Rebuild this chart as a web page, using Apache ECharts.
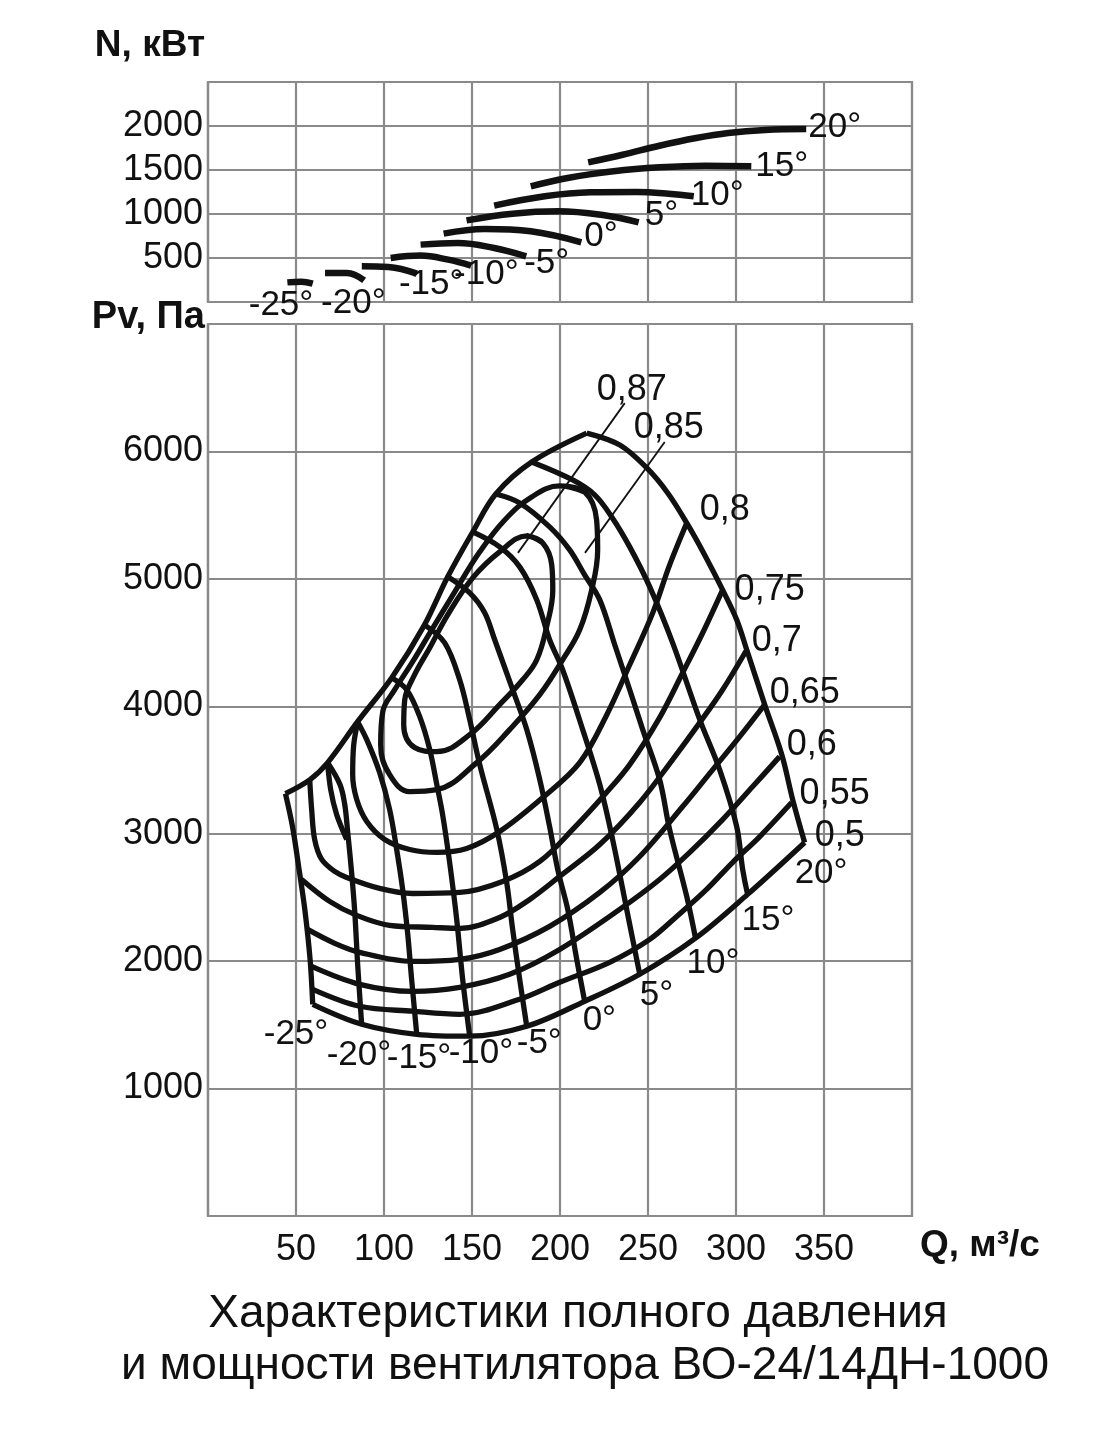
<!DOCTYPE html>
<html><head><meta charset="utf-8">
<script src="https://cdn.jsdelivr.net/npm/echarts@6/dist/echarts.min.js"></script>
<style>html,body{margin:0;padding:0;background:#fff}#c{width:1097px;height:1442px}</style>
</head><body><div id="c"></div>
<script>
// ---------- Power N(Q), kW, per blade angle ----------
const powerM25 = [[45.1,223],[53,231],[59.5,208]];
const powerM20 = [[66.5,330],[79,330],[88.7,246]];
const powerM15 = [[87.4,405],[102.5,398],[118.7,322]];
const powerM10 = [[103.8,500],[120.8,527],[136.5,481],[149.5,413]];
const powerM5  = [[120.8,652],[141.7,670],[162.6,614],[180.8,519]];
const power0   = [[133.9,777],[157.3,830],[183.4,803],[212.1,678]];
const power5   = [[146.9,928],[173,1004],[199.1,1030],[225.2,985],[244.7,905]];
const power10  = [[162.6,1095],[191.3,1201],[217.3,1246],[243.4,1250],[261.7,1231],[276,1201]];
const power15  = [[183.4,1314],[204.3,1409],[230.4,1485],[256.5,1530],[282.6,1549],[308.7,1542]];
const power20  = [[216,1587],[235.6,1673],[256.5,1776],[277.4,1863],[295.6,1920],[316.5,1954],[339.9,1965]];

// ---------- Pressure Pv(Q), Pa, per blade angle ----------
const angleM25 = [[44,3315],[48,3056],[52,2696],[55,2406],[58,2014],[59.5,1661]];
const angleM20 = [[68,3558],[75,3386],[77.7,3229],[79.4,3009],[81.6,2696],[83.4,2382],[85.1,1959],[87.3,1505]];
const angleM15 = [[85,3879],[90.2,3738],[97.5,3480],[103.2,3190],[107.2,2876],[110.6,2563],[113.5,2210],[115.7,1857],[118.6,1426]];
const angleM10 = [[104.4,4224],[112.9,4130],[120.3,3919],[126,3660],[130,3386],[133.3,3150],[137.3,2774],[141.3,2328],[144.7,1857],[148.7,1411]];
const angleM5  = [[123,4639],[134.5,4498],[143,4208],[148.7,3895],[154.4,3542],[164.1,3033],[169.7,2618],[173.1,2249],[177.1,1857],[181.1,1489]];
const angle0   = [[136.2,5016],[148.7,4890],[157.2,4734],[162.9,4522],[173.1,4130],[181.1,3817],[188.5,3425],[194.1,3056],[198.7,2719],[204.4,2406],[209.5,2014],[214,1685]];
const angle5   = [[150.4,5368],[165.7,5251],[177.1,5094],[186.8,4835],[194.1,4522],[201.5,4287],[212.9,3817],[222.6,3386],[229.9,2955],[237.9,2406],[241.3,2171],[245.3,1897]];
const angle10  = [[163.5,5666],[177.1,5596],[194.1,5408],[205.5,5227],[214,5031],[222.6,4835],[231.1,4483],[239.6,4130],[247,3817],[256.6,3425],[262.3,3033],[272,2508],[277,2180]];
const angle15  = [[183.9,5917],[207.2,5776],[219.7,5659],[229.4,5486],[239.6,5251],[251,4937],[264,4498],[279.4,3895],[290.7,3503],[300.4,3056],[303.8,2719],[306.6,2524]];
const angle20  = [[215.2,6144],[234,6050],[249.3,5870],[261.2,5674],[272,5439],[282.2,5188],[292.4,4914],[300.4,4679],[306.1,4444],[316.3,4013],[326,3621],[332.2,3268],[339,2931]];
const surgeLine = [[44,3315],[58,3425],[68,3558],[85,3879],[104.4,4224],[123,4639],[136.2,5016],[150.4,5368],[163.5,5666],[183.9,5917],[215.2,6144]];

// ---------- Efficiency contours ----------
const eff087 = [[181.1,5337],[190.2,5282],[195.3,5110],[195.9,4914],[192.4,4624],[186.8,4365],[178.8,4208],[165.7,4013],[148.7,3777],[130,3644],[117.4,3676],[111.2,3856],[111.8,4052],[117.4,4248],[126,4459],[136.2,4718],[150.4,5008],[165.7,5212],[181.1,5337],[190.2,5282]];
const eff085 = [[199.8,5729],[214,5682],[220.8,5462],[221.4,5227],[218,4914],[211.2,4600],[201.5,4365],[188.5,4091],[171.4,3817],[152.7,3558],[130,3346],[114.6,3331],[103.2,3464],[98.1,3699],[99.3,3958],[106.1,4130],[116.3,4350],[127.1,4600],[140.2,4898],[154.4,5212],[168.6,5462],[183.9,5643],[199.8,5729],[214,5682]];
const eff080 = [[85.1,3879],[82.8,3699],[82.2,3464],[84.5,3268],[90.2,3096],[100.4,2955],[114.6,2876],[130,2853],[147,2884],[165.7,3017],[190.2,3284],[211.2,3558],[226.6,3934],[239.6,4326],[252.7,4733],[262.3,5110],[272,5439]];
const eff080b = [[67.9,3558],[69.7,3346],[73.1,3150],[78.8,2955]];
const eff075 = [[57.8,3425],[58.9,3190],[60.6,2955],[64.6,2798],[72,2704],[78.8,2657],[97.5,2571],[116.3,2531],[143,2539],[167.4,2625],[188.5,2782],[208.3,3049],[225.4,3307],[239.6,3542],[256.6,3911],[269.7,4263],[281.1,4577],[292.4,4914]];
const eff070 = [[53.2,2641],[69.1,2469],[84.5,2359],[103.2,2281],[127.7,2265],[143,2257],[165.7,2343],[182.8,2484],[199.8,2665],[222.6,2915],[245.3,3245],[264,3582],[279.4,3872],[292.4,4130],[306.1,4444]];
const eff065 = [[56.6,2249],[72,2140],[86.2,2069],[116.3,1998],[143,2014],[165.7,2092],[194.1,2273],[222.6,2539],[245.3,2821],[269.7,3213],[286.8,3503],[302.1,3762],[316.3,4013]];
const eff060 = [[58.9,1959],[86.2,1818],[116.3,1763],[143,1795],[171.4,1897],[199.8,2092],[233.9,2406],[256.6,2641],[273.7,2853],[292.4,3111],[309.5,3370],[324.8,3605]];
const eff055 = [[59.5,1779],[86.2,1646],[116.3,1607],[143,1583],[177.1,1701],[199.8,1834],[228.2,1991],[251,2171],[266.3,2351],[283.3,2563],[298,2774],[313.5,2978],[331.6,3245]];
const eff050 = [[59.5,1661],[87.3,1505],[118.6,1426],[148.7,1411],[181.1,1489],[214,1685],[245.3,1897],[277,2180],[306.6,2524],[339,2931]];
const leader087 = [[176.1,5204],[236.8,6379]];
const leader085 = [[214.2,5204],[259.5,6074]];

const angleNames = ['-25°','-20°','-15°','-10°','-5°','0°','5°','10°','15°','20°'];
const effNames = ['0,87','0,85','0,8','0,75','0,7','0,65','0,6','0,55','0,5'];

const FONT = '"Liberation Sans", Arial, Helvetica, sans-serif';
const INK = '#111';
const GRIDC = '#8a8a8a';

function curve(grid, data, width, smooth, lbl, off, fs) {
  const s = {
    type: 'line', xAxisIndex: grid, yAxisIndex: grid, data: data,
    symbol: 'none', smooth: smooth, silent: true,
    lineStyle: { color: INK, width: width, cap: 'butt', join: 'round' }
  };
  if (lbl) {
    s.endLabel = { show: true, formatter: lbl, distance: 0, offset: off,
      fontFamily: FONT, fontSize: fs || 35, color: INK };
  }
  return s;
}

const series = [];
// top chart: power
const powers = [powerM25,powerM20,powerM15,powerM10,powerM5,power0,power5,power10,power15,power20];
const powerOff = [[-64,22],[-43,23],[-18,11],[-17,9],[-2,7],[3,-6],[6,-7],[-3,-1],[4,0],[2,-2]];
powers.forEach((d,i)=>series.push(curve(0,d,6.5,0.4,angleNames[i],powerOff[i],35)));

// main chart
const angles = [angleM25,angleM20,angleM15,angleM10,angleM5,angle0,angle5,angle10,angle15,angle20];
const angleOff = [[-49,30],[-35,31],[-30,24],[-21,17],[-10,17],[-2,19],[0,21],[-9,25],[-6,26],[-10,31]];
angles.forEach((d,i)=>series.push(curve(1,d,5.3,0.35,angleNames[i],angleOff[i],35)));
series.push(curve(1,surgeLine,5.3,0.35));
series.push(curve(1,eff087,5.3,0.4));
series.push(curve(1,eff085,5.3,0.4));
series.push(curve(1,eff080b,5.3,0.3));
const effs = [eff080,eff075,eff070,eff065,eff060,eff055,eff050];
const effOff = [[13,-13],[12,0],[5,-9],[5,-12],[7,-12],[8,-8],[10,-6]];
effs.forEach((d,i)=>series.push(curve(1,d,5.3,0.35,effNames[i+2],effOff[i],36)));
series.push(curve(1,leader087,1.8,false,effNames[0],[-28,-13],36));
series.push(curve(1,leader085,1.8,false,effNames[1],[-31,-14],36));

const axisCommon = {
  type: 'value', min: 0, max: 400, interval: 50,
  axisLine: { show: true, lineStyle: { color: GRIDC, width: 2.2 } },
  axisTick: { show: false },
  splitLine: { show: true, lineStyle: { color: GRIDC, width: 2.2 } }
};

const option = {
  animation: false,
  backgroundColor: '#fff',
  grid: [
    { left: 208, top: 82, width: 704, height: 220, show: true, borderColor: GRIDC, borderWidth: 2.2 },
    { left: 208, top: 324, width: 704, height: 892, show: true, borderColor: GRIDC, borderWidth: 2.2 }
  ],
  xAxis: [
    Object.assign({}, axisCommon, { gridIndex: 0, axisLabel: { show: false } }),
    Object.assign({}, axisCommon, { gridIndex: 1,
      axisLabel: { show: true, margin: 16, color: INK, fontFamily: FONT, fontSize: 36,
        formatter: v => (v === 0 || v === 400) ? '' : String(v) } })
  ],
  yAxis: [
    { type: 'value', gridIndex: 0, min: 0, max: 2500, interval: 500,
      axisLine: { show: true, lineStyle: { color: GRIDC, width: 2.2 } }, axisTick: { show: false },
      splitLine: { show: true, lineStyle: { color: GRIDC, width: 2.2 } },
      axisLabel: { margin: 5, color: INK, fontFamily: FONT, fontSize: 36,
        formatter: v => (v === 0 || v === 2500) ? '' : String(v) } },
    { type: 'value', gridIndex: 1, min: 0, max: 7000, interval: 1000,
      axisLine: { show: true, lineStyle: { color: GRIDC, width: 2.2 } }, axisTick: { show: false },
      splitLine: { show: true, lineStyle: { color: GRIDC, width: 2.2 } },
      axisLabel: { margin: 5, color: INK, fontFamily: FONT, fontSize: 36,
        formatter: v => (v === 0 || v === 7000) ? '' : String(v) } }
  ],
  graphic: [
    { type: 'text', x: 205, y: 46, style: { text: 'N, кВт', font: 'bold 37px ' + FONT, fill: INK, align: 'right', verticalAlign: 'middle' } },
    { type: 'text', x: 205, y: 318, style: { text: 'Pv, Па', font: 'bold 38px ' + FONT, fill: INK, align: 'right', verticalAlign: 'middle' } },
    { type: 'text', x: 920, y: 1246, style: { text: 'Q, м³/с', font: 'bold 37px ' + FONT, fill: INK, align: 'left', verticalAlign: 'middle' } },
    { type: 'text', x: 578, y: 1314, style: { text: 'Характеристики полного давления', font: '46px ' + FONT, fill: INK, align: 'center', verticalAlign: 'middle' } },
    { type: 'text', x: 585, y: 1366, style: { text: 'и мощности вентилятора ВО-24/14ДН-1000', font: '46px ' + FONT, fill: INK, align: 'center', verticalAlign: 'middle' } }
  ],
  series: series
};

const chart = echarts.init(document.getElementById('c'), null, { renderer: 'canvas' });
chart.setOption(option);
</script>
</body></html>
